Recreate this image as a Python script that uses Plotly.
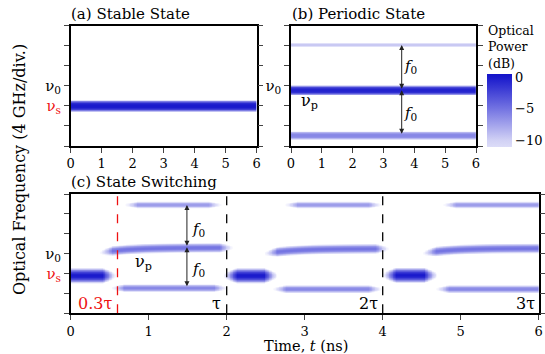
import numpy as np
import plotly.graph_objects as go

# ---------------- data ----------------
t_grid = np.round(np.arange(0, 6.0001, 0.01), 4)      # time (ns)
nu_grid = np.round(np.arange(0, 6.0001, 0.02), 4)     # frequency (div.)
time_ticks = [0, 1, 2, 3, 4, 5, 6]
freq_ticks = [0, 1, 2, 3, 4, 5, 6]

# (a) stable state: single line at nu_s
a_level = [2.0]
a_halfwidth = [0.3]
a_peak = [0.0]

# (b) periodic state: nu_p and sidebands +/- f0
b_level = [5.04, 2.78, 0.53]
b_halfwidth = [0.11, 0.26, 0.22]
b_peak = [-9.5, -0.5, -6.0]

# (c) state switching: segments (start, end, level, halfwidth, peak, rise)
c_start = [-0.2, 1.97, 4.01, 0.38, 2.49, 4.52, 0.70, 2.75, 4.78, 0.53, 2.60, 4.69]
c_end = [0.57, 2.64, 4.69, 2.07, 4.07, 6.30, 1.93, 3.98, 6.30, 2.00, 3.98, 6.30]
c_level = [1.90, 1.90, 1.92, 3.30, 3.25, 3.27, 5.45, 5.45, 5.45, 1.27, 1.22, 1.22]
c_halfwidth = [0.40, 0.40, 0.40, 0.26, 0.26, 0.26, 0.18, 0.18, 0.18, 0.21, 0.21, 0.21]
c_peak = [0.0, 0.0, 0.0, -5.0, -5.0, -5.0, -7.0, -7.0, -7.0, -6.0, -6.0, -6.0]
c_rise = [0.0, 0.0, 0.0, 0.25, 0.25, 0.25, 0.0, 0.0, 0.0, 0.0, 0.0, 0.0]

cbar_ticks = [0, -5, -10]
cbar_labels = ["0", "\u22125", "\u221210"]

FLOOR = -14.0


def spectrogram(levels, hws, peaks, starts=None, ends=None, rises=None, fade=0.16, power=2.0):
    T, F = np.meshgrid(t_grid, nu_grid)
    Z = np.full(T.shape, FLOOR - 2)
    n = len(levels)
    for i in range(n):
        s = starts[i] if starts else -10
        e = ends[i] if ends else 10
        r = rises[i] if rises else 0.0
        depth = peaks[i] - FLOOR
        center = levels[i] - r * np.exp(-np.clip(T - s, 0, None) / 0.35)
        prof = peaks[i] - depth * np.abs((F - center) / hws[i]) ** power
        d = np.minimum(T - s, e - T)
        f = np.clip(d / fade, 0, 1)
        prof = prof - (1 - f) * depth * 0.9
        prof = np.where((T >= s) & (T <= e), prof, FLOOR - 2)
        Z = np.maximum(Z, prof)
    return np.clip(Z, FLOOR, 0.5)


za = spectrogram(a_level, a_halfwidth, a_peak, power=3.0)
zb = spectrogram(b_level, b_halfwidth, b_peak, power=3.0)
zc = spectrogram(c_level, c_halfwidth, c_peak, c_start, c_end, c_rise, power=2.0)

# ---------------- colours ----------------
def cs(vmin, vmax, stops):
    return [[(v - vmin) / (vmax - vmin), c] for v, c in stops]

color_stops = [(-11.0, "#dcdcf8"), (-10.0, "#d2d2f5"), (-5.0, "#7474e2"),
               (0.0, "#1a1acc"), (0.5, "#1414c8")]
heat_scale = cs(FLOOR, 0.5, [(FLOOR, "#ffffff"), (-12.0, "#eeeefc")] + color_stops)
bar_scale = cs(-11.0, 0.5, color_stops)

FONT = "DejaVu Serif"
W, H = 545, 354


def px(xp):
    return xp / W


def py(yp):
    return 1 - yp / H


fig = go.Figure()
for z, xa, ya in [(za, "x", "y"), (zb, "x2", "y2"), (zc, "x3", "y3")]:
    fig.add_trace(go.Heatmap(x=t_grid, y=nu_grid, z=z, xaxis=xa, yaxis=ya,
                             colorscale=heat_scale, zmin=FLOOR, zmax=0.5,
                             showscale=False, hoverinfo="skip"))

# colorbar carrier
fig.add_trace(go.Scatter(x=[-5], y=[-5], xaxis="x2", yaxis="y2", mode="markers",
                         marker=dict(color=[0], colorscale=bar_scale, cmin=-11, cmax=0.5,
                                     showscale=True, size=1,
                                     colorbar=dict(x=px(486.7), xanchor="left", y=py(74), yanchor="top",
                                                   len=73, lenmode="pixels", thickness=25,
                                                   thicknessmode="pixels", outlinewidth=0,
                                                   tickvals=cbar_ticks, ticktext=cbar_labels,
                                                   ticks="", ticklabelposition="outside",
                                                   tickfont=dict(family=FONT, size=13, color="black"),
                                                   xpad=0, ypad=0)),
                         showlegend=False, hoverinfo="skip"))

red_s = "<span style='color:#ee1111'>\u03bd<sub>s</sub></span>"
nu0 = "\u03bd<sub>0</sub>"


def xaxis(domain, anchor):
    return dict(domain=domain, anchor=anchor, range=[0, 6], tickvals=time_ticks,
                ticktext=[str(v) for v in time_ticks], ticks="outside", ticklen=5,
                tickwidth=1.2, showline=True, linewidth=1.5, linecolor="black", mirror=True,
                showgrid=False, zeroline=False, automargin=False,
                tickfont=dict(family=FONT, size=13, color="black"))


def yaxis(domain, anchor, labels):
    return dict(domain=domain, anchor=anchor, range=[0, 6], tickvals=freq_ticks,
                ticktext=labels, ticks="outside", ticklen=5, tickwidth=1.2,
                showline=True, linewidth=1.5, linecolor="black", mirror="ticks",
                showgrid=False, zeroline=False, automargin=False,
                tickfont=dict(family=FONT, size=15, color="black"))


lab_a = ["", "", red_s, nu0, "", "", ""]
lab_b = ["", "", "", nu0, "", "", ""]

fig.update_layout(
    width=W, height=H, margin=dict(l=0, r=0, t=0, b=0),
    paper_bgcolor="white", plot_bgcolor="white", showlegend=False,
    font=dict(family=FONT),
    xaxis=xaxis([px(70.7), px(256.7)], "y"),
    yaxis=yaxis([py(146), py(25.7)], "x", lab_a),
    xaxis2=xaxis([px(291), px(476)], "y2"),
    yaxis2=yaxis([py(146), py(25.7)], "x2", lab_b),
    xaxis3=xaxis([px(70.7), px(538.7)], "y3"),
    yaxis3=yaxis([py(313.3), py(194)], "x3", lab_a),
)

ann = []
# panel titles
for txt, xp, yp in [("(a) Stable State", 69, 14), ("(b) Periodic State", 290, 14),
                    ("(c) State Switching", 69, 182)]:
    ann.append(dict(text=txt, x=px(xp), y=py(yp), xref="paper", yref="paper",
                    xanchor="left", yanchor="middle", showarrow=False,
                    font=dict(family=FONT, size=15, color="black")))
# colorbar title
ann.append(dict(text="Optical<br>Power<br>(dB)", x=px(486), y=py(21), xref="paper", yref="paper",
                xanchor="left", yanchor="top", align="left", showarrow=False,
                font=dict(family=FONT, size=12.5, color="black")))
# axis titles
ann.append(dict(text="Optical Frequency (4 GHz/div.)", x=px(19), y=py(170), xref="paper",
                yref="paper", textangle=-90, showarrow=False, xanchor="center", yanchor="middle",
                font=dict(family=FONT, size=16, color="black")))
ann.append(dict(text="Time, <i>t</i> (ns)", x=px(306), y=py(346), xref="paper", yref="paper",
                showarrow=False, xanchor="center", yanchor="middle",
                font=dict(family=FONT, size=14.5, color="black")))

f0 = "<i>f</i><sub>0</sub>"


def arrow(xa, ya, x, y0, y1):
    return dict(x=x, y=y1, ax=x, ay=y0, xref=xa, yref=ya, axref=xa, ayref=ya,
                text="", showarrow=True, arrowhead=2, arrowsize=1, arrowwidth=1,
                arrowside="end+start", arrowcolor="#222222", standoff=0, startstandoff=0)


# panel (b) annotations
ann += [arrow("x2", "y2", 3.59, 2.78, 5.04), arrow("x2", "y2", 3.59, 0.53, 2.78)]
ann.append(dict(text=f0, x=3.88, y=3.95, xref="x2", yref="y2", showarrow=False,
                font=dict(family=FONT, size=15, color="black")))
ann.append(dict(text=f0, x=3.88, y=1.6, xref="x2", yref="y2", showarrow=False,
                font=dict(family=FONT, size=15, color="black")))
ann.append(dict(text="\u03bd<sub>p</sub>", x=0.6, y=2.2, xref="x2", yref="y2", showarrow=False,
                font=dict(family=FONT, size=16, color="black")))

# panel (c) annotations
ann += [arrow("x3", "y3", 1.49, 3.32, 5.45), arrow("x3", "y3", 1.49, 1.29, 3.32)]
ann.append(dict(text=f0, x=1.64, y=4.2, xref="x3", yref="y3", showarrow=False,
                font=dict(family=FONT, size=15, color="black")))
ann.append(dict(text=f0, x=1.64, y=2.2, xref="x3", yref="y3", showarrow=False,
                font=dict(family=FONT, size=15, color="black")))
ann.append(dict(text="\u03bd<sub>p</sub>", x=0.93, y=2.55, xref="x3", yref="y3", showarrow=False,
                font=dict(family=FONT, size=16, color="black")))
for txt, xv, col in [("0.3\u03c4", 0.56, "#ee1111"), ("\u03c4", 1.95, "black"),
                     ("2\u03c4", 3.96, "black"), ("3\u03c4", 5.98, "black")]:
    ann.append(dict(text=txt, x=xv, y=0.5, xref="x3", yref="y3", showarrow=False,
                    xanchor="right", yanchor="middle",
                    font=dict(family=FONT, size=16, color=col)))

fig.update_layout(annotations=ann)

# dashed markers in (c)
shapes = [dict(type="line", xref="x3", yref="y3", x0=0.6, x1=0.6, y0=0, y1=6,
               line=dict(color="#ee1111", width=1.3, dash="dash")),
          dict(type="line", xref="x3", yref="y3", x0=2, x1=2, y0=0, y1=6,
               line=dict(color="black", width=1.3, dash="dash")),
          dict(type="line", xref="x3", yref="y3", x0=4, x1=4, y0=0, y1=6,
               line=dict(color="black", width=1.3, dash="dash"))]
fig.update_layout(shapes=shapes)

fig.write_html("out.html", config={"displayModeBar": False},
               post_script="document.body.style.margin='0';document.body.style.padding='0';")
